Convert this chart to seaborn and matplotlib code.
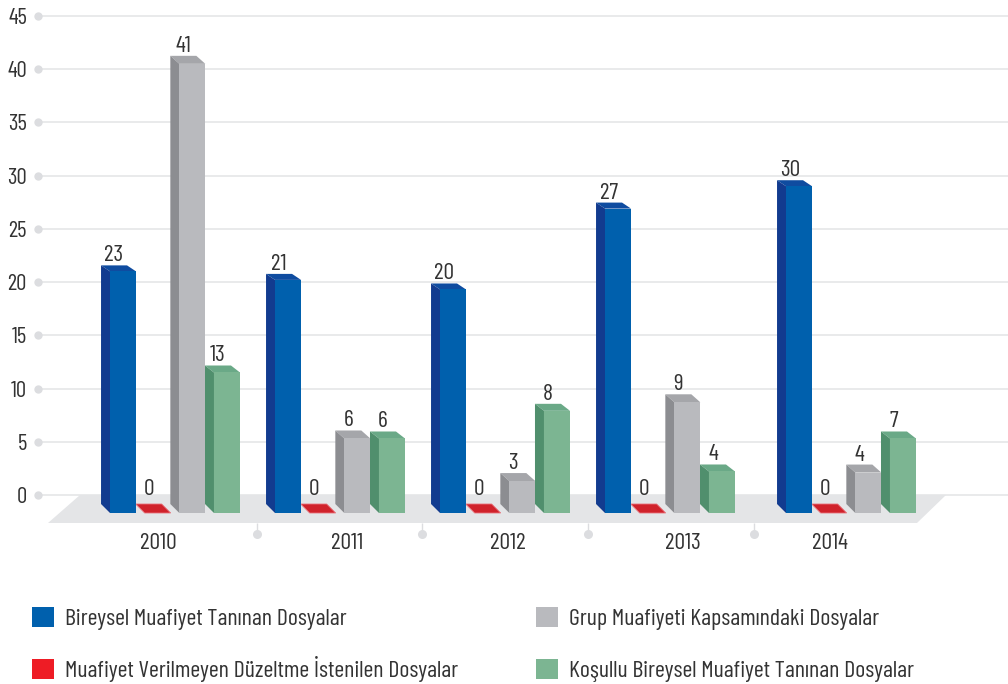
import matplotlib
matplotlib.use("Agg")
import matplotlib.pyplot as plt
import seaborn as sns
import pandas as pd
import logging
logging.getLogger("matplotlib.font_manager").setLevel(logging.ERROR)

years = ["2010", "2011", "2012", "2013", "2014"]
series = ["Bireysel Muafiyet Tanınan Dosyalar",
          "Muafiyet Verilmeyen Düzeltme İstenilen Dosyalar",
          "Grup Muafiyeti Kapsamındaki Dosyalar",
          "Koşullu Bireysel Muafiyet Tanınan Dosyalar"]
# printed values
blue_vals = [23, 21, 20, 27, 30]
red_vals = [0, 0, 0, 0, 0]
gray_vals = [41, 6, 3, 9, 4]
green_vals = [13, 6, 8, 4, 7]
# heights of the front faces as drawn in the picture
blue_h = [22.7, 21.9, 21.0, 28.6, 30.7]
red_h = [0, 0, 0, 0, 0]
gray_h = [42.2, 7.0, 3.0, 10.4, 3.8]
green_h = [13.2, 7.0, 9.6, 3.9, 7.0]
yticks = list(range(0, 50, 5))

front = ["#0060ad", "#ee1c25", "#b9babe", "#7cb592"]
side = ["#123b8f", "#d0222b", "#8c8d91", "#508f6d"]
top = ["#0f4ca0", "#d0222b", "#a5a6aa", "#6aa987"]
depth_dy = [6, 9, 8, 7]

sns.set_theme(style="white")
plt.rcParams["font.family"] = ["Barlow Condensed", "Roboto Condensed", "Liberation Sans Narrow", "DejaVu Sans"]
TXT = "#333333"

W, H = 1008, 684
L, B = 38, 523          # axes origin in image pixels
fig = plt.figure(figsize=(W / 100, H / 100), dpi=100)
ax = fig.add_axes([L / W, (H - B) / H, (W - L) / W, B / H])

UY = 10.644             # pixels per y unit
UX = 165.0              # pixels per category
def dx(p): return p / UX
def dy(p): return p / UY
def X(p): return (p - 175) / UX
def Y(p): return (495 - p) / UY

base = Y(513)
rows = []
for name, hs in zip(series, [blue_h, red_h, gray_h, green_h]):
    rows += [{"year": y, "series": name, "h": h} for y, h in zip(years, hs)]
df = pd.DataFrame(rows)

sns.barplot(data=df, x="year", y="h", hue="series", hue_order=series, order=years,
            palette=front, saturation=1, width=0.84, gap=0.25,
            errorbar=None, ax=ax, zorder=3, linewidth=0)

ax.set_xlim(X(L), X(W))
ax.set_ylim(Y(B), Y(0))
ax.set_xlabel("")
ax.set_ylabel("")
for s in ax.spines.values():
    s.set_visible(False)

# floor
ax.fill([X(80), X(946), X(917), X(48)], [Y(495), Y(495), Y(523), Y(523)],
        color="#e4e5e7", lw=0, zorder=1, clip_on=False)

# bars stand on the front edge of the floor; the last group sits further right
for cont in ax.containers:
    for bar in cont.patches:
        bar.set_y(base)
    cont.patches[4].set_x(cont.patches[4].get_x() + dx(16))

# side faces, top faces and printed values derived from each bar
all_vals = [blue_vals, red_vals, gray_vals, green_vals]
for k, cont in enumerate(ax.containers):
    for j, bar in enumerate(cont.patches):
        x0, w = bar.get_x(), bar.get_width()
        y0, h = bar.get_y(), bar.get_height()
        y1 = y0 + h
        sx, ty, by = dx(9), dy(depth_dy[k]), dy(9)
        z = 2 + k * 0.1
        ax.fill([x0 - sx, x0 + w - sx, x0 + w, x0],
                [y1 + ty, y1 + ty, y1, y1], facecolor=top[k],
                edgecolor="#e8727a" if h == 0 else "none", lw=0.6, zorder=z)
        if h > 0:
            ax.fill([x0 - sx, x0, x0, x0 - sx],
                    [y0 + by, y0, y1, y1 + ty], color=side[k], lw=0, zorder=z)
        gap = dy(9) if h == 0 else dy(4)
        ax.text(x0 + w / 2 - sx, y1 + ty + gap, str(all_vals[k][j]),
                ha="center", va="baseline", fontsize=17, color=TXT, zorder=5)

# axes furniture
ax.set_yticks(yticks)
ax.tick_params(axis="y", length=0, pad=8, labelsize=16.5, labelcolor=TXT)
ax.yaxis.grid(True, color="#e3e4e6", lw=1.1, zorder=0)
ax.set_axisbelow(True)
for t in ax.yaxis.get_major_ticks():
    t.tick1line.set_visible(True)
    t.tick1line.set_marker("o")
    t.tick1line.set_markersize(6)
    t.tick1line.set_markerfacecolor("#dcdde0")
    t.tick1line.set_markeredgewidth(0)

ax.set_xticks([X(158), X(347), X(508), X(683), X(830)], labels=years)
ax.tick_params(axis="x", length=0, pad=7, labelsize=17, labelcolor=TXT)
sep = [X(257), X(422), X(588), X(754)]
ax.set_xticks(sep, minor=True)
ax.tick_params(axis="x", which="minor", bottom=True, length=8, width=1, color="#dcdde0")
ax.plot(sep, [Y(534)] * 4, "o", ms=6.5, mec="none", color="#dcdde0", clip_on=False, zorder=1)

sns.move_legend(ax, loc="upper left", bbox_to_anchor=(32 / W, 1 - 607 / H),
                bbox_transform=fig.transFigure, ncol=2, frameon=False, title=None,
                fontsize=17.2, labelcolor=TXT, handlelength=0.92, handleheight=0.92,
                handletextpad=0.46, columnspacing=3.25, labelspacing=1.2,
                borderpad=0, borderaxespad=0)
# the dotted capital in the first column makes its second row taller: pull it back in line
col1 = ax.get_legend()._legend_handle_box.get_children()[0]
col1.sep -= 3 * 72 / 100

fig.savefig("out.png", dpi=100)
